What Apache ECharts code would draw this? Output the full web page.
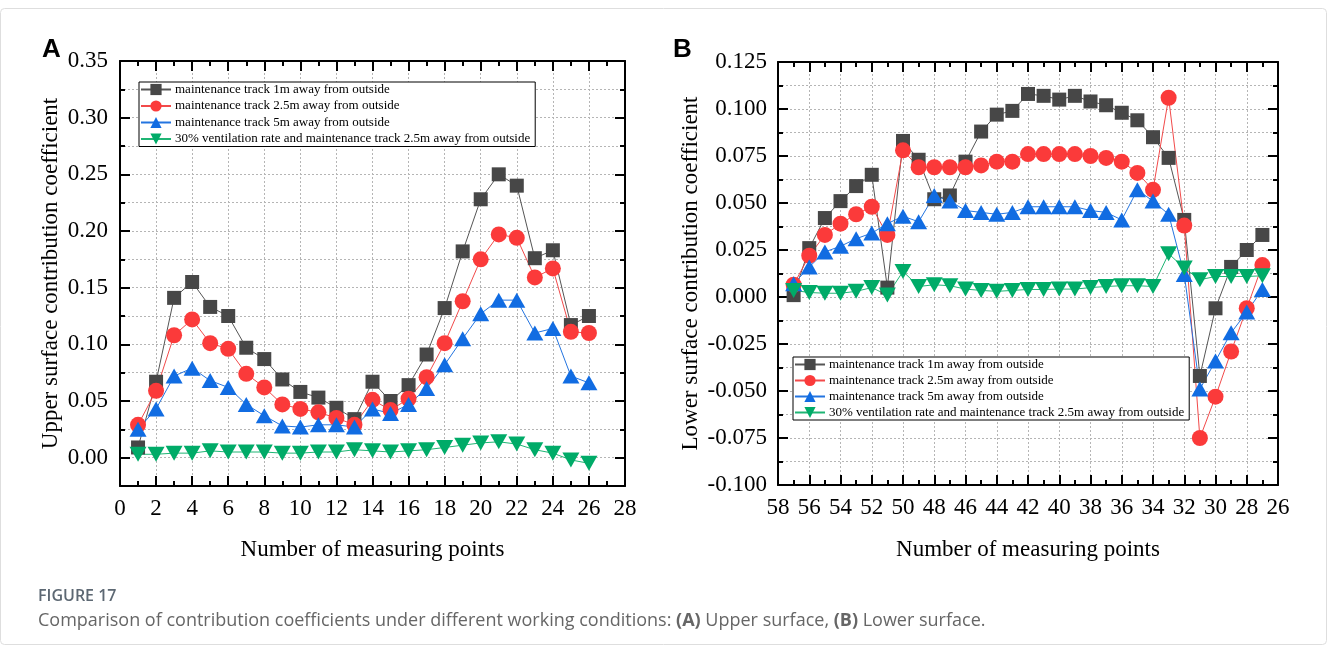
<!DOCTYPE html>
<html>
<head>
<meta charset="utf-8">
<title>Figure 17</title>
<script src="https://cdn.jsdelivr.net/npm/echarts@6/dist/echarts.min.js"></script>
<style>
  html, body { margin: 0; padding: 0; background: #fff; }
  #chart { width: 1327px; height: 653px; }
</style>
</head>
<body>
<div id="chart"></div>
<script>
// Series names
const seriesNames = [
  'maintenance track 1m away from outside',
  'maintenance track 2.5m away from outside',
  'maintenance track 5m away from outside',
  '30% ventilation rate and maintenance track 2.5m away from outside'
];

// (A) Upper surface: measuring points 1..26
const upperPoints = [1, 2, 3, 4, 5, 6, 7, 8, 9, 10, 11, 12, 13, 14, 15, 16, 17, 18, 19, 20, 21, 22, 23, 24, 25, 26];
const upper1m   = [0.009, 0.067, 0.141, 0.155, 0.133, 0.125, 0.097, 0.087, 0.069, 0.058, 0.053, 0.044, 0.034, 0.067, 0.050, 0.064, 0.091, 0.132, 0.182, 0.228, 0.250, 0.240, 0.176, 0.183, 0.117, 0.125];
const upper2p5m = [0.029, 0.059, 0.108, 0.122, 0.101, 0.096, 0.074, 0.062, 0.047, 0.043, 0.040, 0.035, 0.029, 0.051, 0.042, 0.052, 0.071, 0.101, 0.138, 0.175, 0.197, 0.194, 0.159, 0.167, 0.111, 0.110];
const upper5m   = [0.025, 0.043, 0.072, 0.079, 0.068, 0.062, 0.047, 0.037, 0.028, 0.027, 0.029, 0.029, 0.027, 0.043, 0.039, 0.047, 0.061, 0.082, 0.105, 0.127, 0.139, 0.139, 0.110, 0.114, 0.072, 0.066];
const upperVent = [0.003, 0.003, 0.004, 0.004, 0.006, 0.005, 0.005, 0.005, 0.004, 0.004, 0.005, 0.005, 0.007, 0.006, 0.005, 0.006, 0.007, 0.009, 0.011, 0.013, 0.014, 0.012, 0.007, 0.004, -0.002, -0.005];

// (B) Lower surface: measuring points 57..27
const lowerPoints = [57, 56, 55, 54, 53, 52, 51, 50, 49, 48, 47, 46, 45, 44, 43, 42, 41, 40, 39, 38, 37, 36, 35, 34, 33, 32, 31, 30, 29, 28, 27];
const lower1m   = [0.001, 0.026, 0.042, 0.051, 0.059, 0.065, 0.005, 0.083, 0.073, 0.052, 0.054, 0.072, 0.088, 0.097, 0.099, 0.108, 0.107, 0.105, 0.107, 0.104, 0.102, 0.098, 0.094, 0.085, 0.074, 0.041, -0.042, -0.006, 0.016, 0.025, 0.033];
const lower2p5m = [0.0065, 0.022, 0.033, 0.039, 0.044, 0.048, 0.033, 0.078, 0.069, 0.069, 0.069, 0.069, 0.070, 0.072, 0.072, 0.076, 0.076, 0.076, 0.076, 0.075, 0.074, 0.072, 0.066, 0.057, 0.106, 0.038, -0.075, -0.053, -0.029, -0.006, 0.017];
const lower5m   = [0.007, 0.016, 0.024, 0.027, 0.031, 0.034, 0.039, 0.043, 0.040, 0.054, 0.051, 0.046, 0.045, 0.044, 0.045, 0.048, 0.048, 0.048, 0.048, 0.046, 0.045, 0.041, 0.057, 0.051, 0.044, 0.012, -0.049, -0.034, -0.019, -0.008, 0.004];
const lowerVent = [0.0035, 0.0024, 0.002, 0.002, 0.003, 0.005, 0.001, 0.0136, 0.0056, 0.0065, 0.006, 0.0042, 0.0035, 0.003, 0.0035, 0.004, 0.004, 0.0042, 0.0042, 0.005, 0.0056, 0.006, 0.006, 0.0056, 0.023, 0.0154, 0.0092, 0.0109, 0.0109, 0.0109, 0.0113];

// Labelled (major) tick values of the upper-surface y axis
const upperYTicks = [0, 0.05, 0.10, 0.15, 0.20, 0.25, 0.30, 0.35];

const SERIF = 'Liberation Serif, Times New Roman, serif';
const colors = {
  c1m:   { line: '#555555', mark: '#474747' },
  c2p5m: { line: '#f24a4a', mark: '#fb3a3a' },
  c5m:   { line: '#2374e0', mark: '#116ce2' },
  vent:  { line: '#1fb574', mark: '#00ab68' }
};
const downTriangle = 'path://M0,0 L20,0 L10,17 Z';

const gridA = { left: 120, top: 61, width: 505, height: 425 };
const gridB = { left: 778, top: 62, width: 500, height: 423 };

const boxLine = { show: true, onZero: false, lineStyle: { color: '#000', width: 2 } };
const dotted = { show: true, lineStyle: { color: '#b5b5b5', width: 1, type: [2, 2] } };
const tickLabel = { color: '#000', fontFamily: SERIF, fontSize: 23 };
const nameStyle = { color: '#000', fontFamily: SERIF, fontSize: 23 };

function pairs(xs, ys) { return xs.map((x, i) => [x, ys[i]]); }

function makeSeries(xIdx, yIdx, xs, d1, d2, d3, d4) {
  const defs = [
    [seriesNames[0], d1, 'rect', 14, colors.c1m],
    [seriesNames[1], d2, 'circle', 16, colors.c2p5m],
    [seriesNames[2], d3, 'triangle', [17, 15], colors.c5m],
    [seriesNames[3], d4, downTriangle, [17, 15], colors.vent]
  ];
  return defs.map(([name, ys, sym, size, c]) => ({
    name, type: 'line', xAxisIndex: xIdx, yAxisIndex: yIdx,
    data: pairs(xs, ys),
    symbol: sym, symbolSize: size,
    showSymbol: true,
    lineStyle: { color: c.line, width: 1 },
    itemStyle: { color: c.mark },
    emphasis: { disabled: true },
    animation: false
  }));
}

function legendAt(left, top, gap) {
  return {
    orient: 'vertical', left, top,
    data: seriesNames,
    itemWidth: 30, itemHeight: 14, itemGap: gap,
    padding: [1, 5, 1, 1],
    borderColor: '#000', borderWidth: 1, backgroundColor: '#fff',
    textStyle: { color: '#000', fontFamily: SERIF, fontSize: 13, padding: [0, 0, 0, -1] },
    selectedMode: false
  };
}

const xAxes = [
  // (A) bottom
  {
    gridIndex: 0, type: 'value', position: 'bottom', min: 0, max: 28, interval: 2,
    axisLine: boxLine,
    axisTick: { show: true, inside: true, length: 10, lineStyle: { color: '#000', width: 2 } },
    minorTick: { show: true, splitNumber: 2, length: 5, lineStyle: { color: '#000', width: 2 } },
    axisLabel: Object.assign({ margin: 11 }, tickLabel),
    splitLine: dotted,
    name: 'Number of measuring points', nameLocation: 'middle', nameGap: 52, nameTextStyle: nameStyle
  },
  // (A) top
  {
    gridIndex: 0, type: 'value', position: 'top', min: 0, max: 28, interval: 2,
    axisLine: boxLine,
    axisTick: { show: true, inside: true, length: 10, lineStyle: { color: '#000', width: 2 } },
    minorTick: { show: true, splitNumber: 2, length: 5, lineStyle: { color: '#000', width: 2 } },
    axisLabel: { show: false }, splitLine: { show: false }
  },
  // (B) bottom, reversed
  {
    gridIndex: 1, type: 'value', position: 'bottom', min: 26, max: 58, interval: 2, inverse: true,
    axisLine: boxLine,
    axisTick: { show: true, inside: true, length: 10, lineStyle: { color: '#000', width: 2 } },
    minorTick: { show: true, splitNumber: 2, length: 5, lineStyle: { color: '#000', width: 2 } },
    axisLabel: Object.assign({ margin: 11 }, tickLabel),
    splitLine: dotted,
    name: 'Number of measuring points', nameLocation: 'middle', nameGap: 53, nameTextStyle: nameStyle
  },
  // (B) top
  {
    gridIndex: 1, type: 'value', position: 'top', min: 26, max: 58, interval: 2, inverse: true,
    axisLine: boxLine,
    axisTick: { show: true, inside: true, length: 10, lineStyle: { color: '#000', width: 2 } },
    minorTick: { show: true, splitNumber: 2, length: 5, lineStyle: { color: '#000', width: 2 } },
    axisLabel: { show: false }, splitLine: { show: false }
  }
];

const yAxes = [
  // (A) left: short ticks every 0.025, grid lines, labels on the 0.05 steps
  {
    gridIndex: 0, type: 'value', position: 'left', min: -0.025, max: 0.35, interval: 0.025,
    axisLine: boxLine,
    axisTick: { show: true, inside: true, length: 5, lineStyle: { color: '#000', width: 2 } },
    axisLabel: Object.assign({ margin: 12, customValues: upperYTicks, formatter: v => v.toFixed(2) }, tickLabel),
    splitLine: dotted,
    name: 'Upper surface contribution coefficient', nameLocation: 'middle', nameGap: 58, nameTextStyle: nameStyle
  },
  // (A) left: long ticks on the 0.05 steps
  {
    gridIndex: 0, type: 'value', position: 'left', min: -0.025, max: 0.35,
    axisLine: { show: false, onZero: false },
    axisTick: { show: true, inside: true, length: 10, customValues: upperYTicks, lineStyle: { color: '#000', width: 2 } },
    axisLabel: { show: false }, splitLine: { show: false }
  },
  // (A) right: short ticks
  {
    gridIndex: 0, type: 'value', position: 'right', min: -0.025, max: 0.35, interval: 0.025,
    axisLine: boxLine,
    axisTick: { show: true, inside: true, length: 5, lineStyle: { color: '#000', width: 2 } },
    axisLabel: { show: false }, splitLine: { show: false }
  },
  // (A) right: long ticks
  {
    gridIndex: 0, type: 'value', position: 'right', min: -0.025, max: 0.35,
    axisLine: { show: false, onZero: false },
    axisTick: { show: true, inside: true, length: 10, customValues: upperYTicks, lineStyle: { color: '#000', width: 2 } },
    axisLabel: { show: false }, splitLine: { show: false }
  },
  // (B) left
  {
    gridIndex: 1, type: 'value', position: 'left', min: -0.1, max: 0.125, interval: 0.025,
    axisLine: boxLine,
    axisTick: { show: true, inside: true, length: 10, lineStyle: { color: '#000', width: 2 } },
    minorTick: { show: true, splitNumber: 2, length: 5, lineStyle: { color: '#000', width: 2 } },
    axisLabel: Object.assign({ margin: 11, formatter: v => v.toFixed(3) }, tickLabel),
    splitLine: dotted,
    minorSplitLine: dotted,
    name: 'Lower surface contribution coefficient', nameLocation: 'middle', nameGap: 76, nameTextStyle: nameStyle
  },
  // (B) right
  {
    gridIndex: 1, type: 'value', position: 'right', min: -0.1, max: 0.125, interval: 0.025,
    axisLine: boxLine,
    axisTick: { show: true, inside: true, length: 10, lineStyle: { color: '#000', width: 2 } },
    minorTick: { show: true, splitNumber: 2, length: 5, lineStyle: { color: '#000', width: 2 } },
    axisLabel: { show: false }, splitLine: { show: false }
  }
];

const option = {
  animation: false,
  backgroundColor: '#fff',
  grid: [
    Object.assign({ containLabel: false }, gridA),
    Object.assign({ containLabel: false }, gridB)
  ],
  xAxis: xAxes,
  yAxis: yAxes,
  legend: [legendAt(139, 82, 3.5), legendAt(793, 357, 3)],
  series: [].concat(
    makeSeries(0, 0, upperPoints, upper1m, upper2p5m, upper5m, upperVent),
    makeSeries(2, 4, lowerPoints, lower1m, lower2p5m, lower5m, lowerVent)
  ),
  graphic: [
    {
      type: 'rect', silent: true, z: -10,
      shape: { x: 0.5, y: 8.5, width: 1326, height: 636, r: 4 },
      style: { fill: 'none', stroke: '#dedede', lineWidth: 1 }
    },
    {
      type: 'text', left: 42, top: 37,
      style: { text: 'A', font: 'bold 26px Liberation Sans, Arial, sans-serif', fill: '#000' }
    },
    {
      type: 'text', left: 673, top: 37,
      style: { text: 'B', font: 'bold 26px Liberation Sans, Arial, sans-serif', fill: '#000' }
    },
    {
      type: 'text', left: 38, top: 588,
      style: { text: 'FIGURE 17', font: '600 16px Open Sans, sans-serif', fill: '#5d6873' }
    },
    {
      type: 'text', left: 38, top: 612,
      style: {
        text: 'Comparison of contribution coefficients under different working conditions: {b|(A)} Upper surface, {b|(B)} Lower surface.',
        font: '18px Open Sans, sans-serif', fill: '#666',
        rich: { b: { fontWeight: 'bold', fontFamily: 'Open Sans, sans-serif', fontSize: 18, fill: '#666' } }
      }
    }
  ]
};

const chart = echarts.init(document.getElementById('chart'), null, { renderer: 'canvas' });
chart.setOption(option);
</script>
</body>
</html>
